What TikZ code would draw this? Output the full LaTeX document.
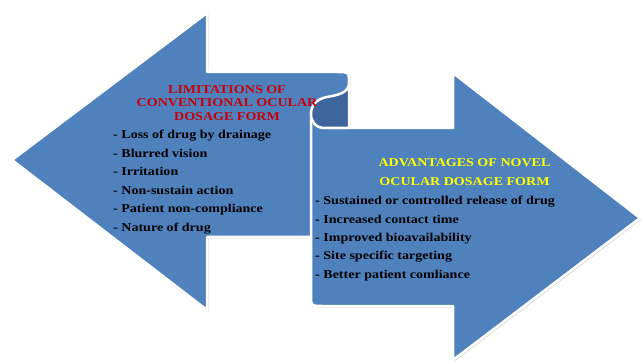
\documentclass[tikz,border=0pt]{standalone}
\usepackage{fontspec}
\usetikzlibrary{shadows}
\newfontfamily\lsb{Liberation Serif}[FakeStretch=1.17]
\definecolor{arrowblue}{RGB}{79,129,189}
\definecolor{rollblue}{RGB}{62,101,156}
\definecolor{titlered}{RGB}{200,0,10}
\definecolor{titleyellow}{RGB}{255,255,0}
\begin{document}
\begin{tikzpicture}[x=1pt,y=-1pt,
  arrowshape/.style={fill=arrowblue, draw=white, line width=2.5pt, line join=round,
    drop shadow={opacity=0.3,shadow xshift=1.5pt,shadow yshift=-1.5pt}},
  rollshape/.style={fill=rollblue, draw=white, line width=2.5pt, line join=round},
  txt/.style={font=\lsb\bfseries\fontsize{12}{14}\selectfont, inner sep=0pt},
  redtitle/.style={txt, text=titlered, anchor=base},
  yeltitle/.style={txt, text=titleyellow, anchor=base},
  listitem/.style={txt, text=black, anchor=base west}]
\useasboundingbox (0,0) rectangle (642,363);
% left arrow
\path[arrowshape] (12,160) -- (207,13) -- (207,72) -- (337,72)
  .. controls (349,72) .. (349,84) -- (349,237) -- (207,237) -- (207,310) -- cycle;
% right arrow
\path[arrowshape] (311,112) -- (311,294) .. controls (311,306) .. (323,306)
  -- (453,306) -- (453,360) -- (640,218) -- (453,73) -- (453,128) -- (325,128)
  .. controls (316,128) and (311,121) .. (311,112) -- cycle;
% scroll roll
\path[rollshape] (349,84) .. controls (348,93) and (338,95) .. (327,97)
  .. controls (316,99) and (311,106) .. (311,114)
  .. controls (311,122) and (316,128) .. (325,128) -- (349,128) -- cycle;
% left texts
\node[redtitle] (lt1) at (227,93.5) {LIMITATIONS OF};
\node[redtitle] (lt2) at (227,106.8) {CONVENTIONAL OCULAR};
\node[redtitle] (lt3) at (227,120.1) {DOSAGE FORM};
\foreach \t [count=\i from 0] in {Loss of drug by drainage, Blurred vision, Irritation,
  Non-sustain action, Patient non-compliance, Nature of drug}
  \node[listitem] (l\i) at (113,139+18.45*\i) {- \t};
% right texts
\node[yeltitle] (rt1) at (464.5,166.8) {ADVANTAGES OF NOVEL};
\node[yeltitle] (rt2) at (464.5,185.2) {OCULAR DOSAGE FORM};
\foreach \t [count=\i from 0] in {Sustained or controlled release of drug,
  Increased contact time, Improved bioavailability, Site specific targeting,
  Better patient comliance}
  \node[listitem] (r\i) at (315,204.8+18.4*\i) {- \t};
\end{tikzpicture}
\end{document}
